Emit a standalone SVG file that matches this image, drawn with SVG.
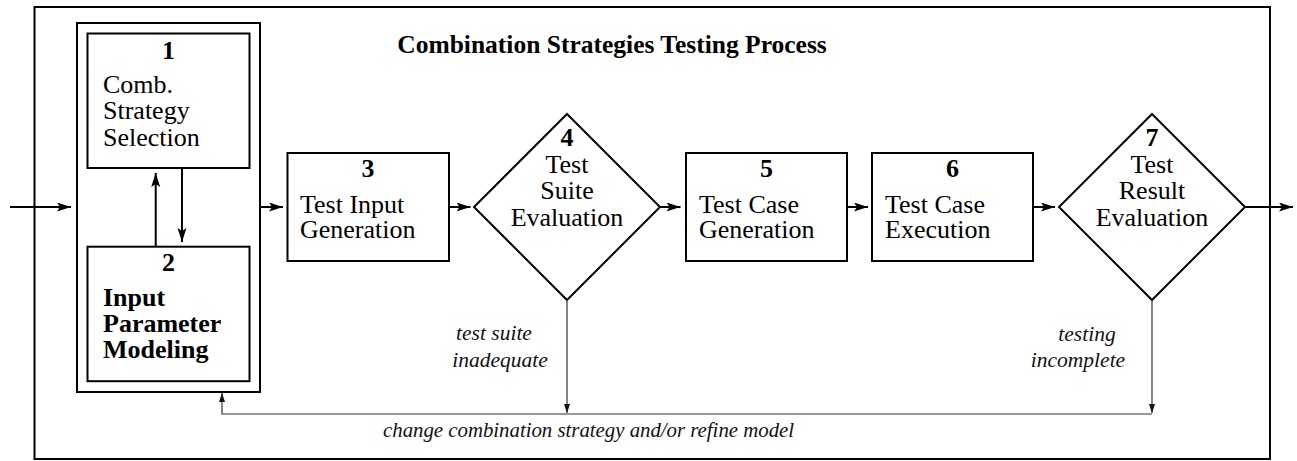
<svg xmlns="http://www.w3.org/2000/svg" width="1297" height="461" viewBox="0 0 1297 461">
<style>
.box{fill:#fff;stroke:#000;stroke-width:2}
.frame{fill:none;stroke:#000;stroke-width:2}
.t{font-family:"Liberation Serif","Times New Roman",serif;font-size:26px;fill:#000}
.b{font-weight:bold}
.m{text-anchor:middle}
.lab{font-family:"Liberation Serif","Times New Roman",serif;font-size:21.5px;font-style:italic;fill:#111}
.lab2{font-family:"Liberation Serif","Times New Roman",serif;font-size:20.8px;font-style:italic;fill:#111}
.title{font-family:"Liberation Serif","Times New Roman",serif;font-size:25.5px;font-weight:bold;text-anchor:middle}
.c{fill:none;stroke:#000;stroke-width:2}
.cf{fill:none;stroke:#333;stroke-width:1.2}
</style>
<defs>
<marker id="ah" markerUnits="userSpaceOnUse" markerWidth="15" markerHeight="10" refX="14" refY="4.5" orient="auto">
<path d="M0,0 L14,4.5 L0,9 L3,4.5 z" fill="#000"/>
</marker>
<marker id="as" markerUnits="userSpaceOnUse" markerWidth="10" markerHeight="7" refX="9" refY="3" orient="auto">
<path d="M0,0 L9,3 L0,6 z" fill="#111"/>
</marker>
</defs>
<rect x="0" y="0" width="1297" height="461" fill="#fff"/>
<rect id="outer-frame" class="frame" x="34.5" y="7" width="1235.5" height="452"/>
<text id="title" class="title" x="612" y="53">Combination Strategies Testing Process</text>

<g id="group12">
<rect class="frame" x="77" y="23" width="183" height="369"/>
</g>
<g id="node1">
<rect class="box" x="87.5" y="33.5" width="162" height="134.5"/>
<text class="t b m" x="168.5" y="59">1</text>
<text class="t" x="103" y="93">Comb.</text>
<text class="t" x="103" y="119">Strategy</text>
<text class="t" x="103" y="146">Selection</text>
</g>
<g id="node2">
<rect class="box" x="87.5" y="246.7" width="162" height="134.5"/>
<text class="t b m" x="168.5" y="271">2</text>
<text class="t b" x="103" y="306">Input</text>
<text class="t b" x="103" y="332">Parameter</text>
<text class="t b" x="103" y="358">Modeling</text>
</g>
<g id="node3">
<rect class="box" x="287.5" y="153" width="161.5" height="108"/>
<text class="t b m" x="368" y="177">3</text>
<text class="t" x="300" y="213">Test Input</text>
<text class="t" x="300" y="238">Generation</text>
</g>
<g id="node4">
<polygon class="box" points="567,114 660,207 567,300 474,207"/>
<text class="t b m" x="567" y="146">4</text>
<text class="t m" x="567" y="173">Test</text>
<text class="t m" x="567" y="199">Suite</text>
<text class="t m" x="567" y="226">Evaluation</text>
</g>
<g id="node5">
<rect class="box" x="686" y="153" width="161" height="108"/>
<text class="t b m" x="766.5" y="177">5</text>
<text class="t" x="699" y="213">Test Case</text>
<text class="t" x="699" y="238">Generation</text>
</g>
<g id="node6">
<rect class="box" x="872" y="153" width="161" height="108"/>
<text class="t b m" x="952.5" y="177">6</text>
<text class="t" x="885" y="213">Test Case</text>
<text class="t" x="885" y="238">Execution</text>
</g>
<g id="node7">
<polygon class="box" points="1152,114 1245,207 1152,300 1059,207"/>
<text class="t b m" x="1152" y="146">7</text>
<text class="t m" x="1152" y="173">Test</text>
<text class="t m" x="1152" y="199">Result</text>
<text class="t m" x="1152" y="226">Evaluation</text>
</g>

<g id="connectors">
<line class="c" x1="10" y1="207" x2="71" y2="207" marker-end="url(#ah)"/>
<line class="c" x1="155.7" y1="246.7" x2="155.7" y2="173" marker-end="url(#ah)"/>
<line class="c" x1="182" y1="168" x2="182" y2="242" marker-end="url(#ah)"/>
<line class="c" x1="260" y1="207" x2="283" y2="207" marker-end="url(#ah)"/>
<line class="c" x1="449" y1="207" x2="470.5" y2="207" marker-end="url(#ah)"/>
<line class="c" x1="660" y1="207" x2="680.5" y2="207" marker-end="url(#ah)"/>
<line class="c" x1="847" y1="207" x2="868" y2="207" marker-end="url(#ah)"/>
<line class="c" x1="1033" y1="207" x2="1055" y2="207" marker-end="url(#ah)"/>
<line class="c" x1="1245" y1="207" x2="1293" y2="207" marker-end="url(#ah)"/>
<line class="cf" x1="567" y1="300" x2="567" y2="413" marker-end="url(#as)"/>
<line class="cf" x1="1152" y1="300" x2="1152" y2="413" marker-end="url(#as)"/>
<polyline class="cf" points="1152,414 222,414 222,393" marker-end="url(#as)"/>
<text class="lab m" x="494" y="340">test suite</text>
<text class="lab m" x="500" y="367">inadequate</text>
<text class="lab m" x="1087" y="341">testing</text>
<text class="lab m" x="1078" y="367">incomplete</text>
<text class="lab2" x="383" y="437">change combination strategy and/or refine model</text>
</g>
</svg>
